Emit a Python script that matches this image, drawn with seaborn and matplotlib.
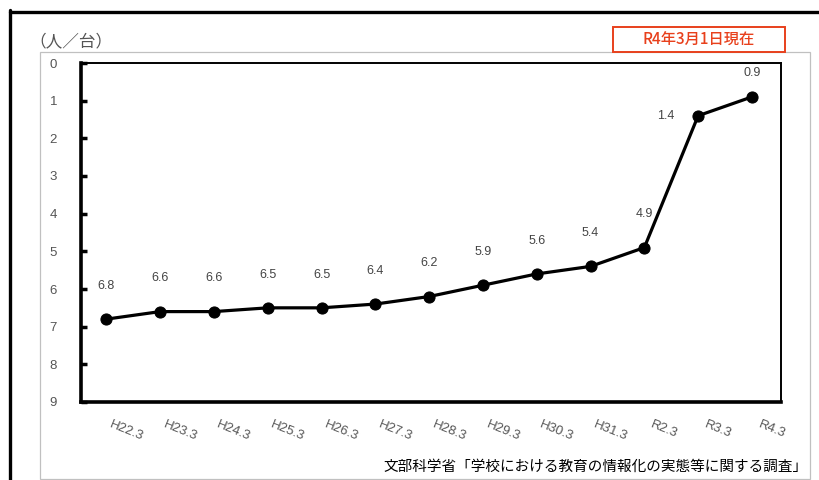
import matplotlib
matplotlib.use("Agg")
import matplotlib.pyplot as plt
import seaborn as sns
import numpy as np
from matplotlib.patches import Rectangle
from matplotlib.lines import Line2D
from matplotlib.transforms import ScaledTranslation

categories = ["H22.3", "H23.3", "H24.3", "H25.3", "H26.3", "H27.3", "H28.3",
              "H29.3", "H30.3", "H31.3", "R2.3", "R3.3", "R4.3"]
values = [6.8, 6.6, 6.6, 6.5, 6.5, 6.4, 6.2, 5.9, 5.6, 5.4, 4.9, 1.4, 0.9]
y_ticks = list(range(0, 10))

sns.set_theme(style="white")
plt.rcParams['font.family'] = ['Liberation Sans', 'Noto Sans CJK JP', 'DejaVu Sans']

fig = plt.figure(figsize=(8.2, 4.8), dpi=100)
W, H = 820, 480

def fx(px):
    return px / W

def fy(py):
    return 1 - py / H

# outer frame lines
fig.add_artist(Line2D([fx(10), fx(820)], [fy(11.5), fy(11.5)], color='black', lw=2.4))
fig.add_artist(Line2D([fx(10.5), fx(10.5)], [fy(10), fy(480)], color='black', lw=2.4))
# gray inner box
fig.add_artist(Rectangle((fx(40), fy(479)), fx(770), (479 - 52) / H, fill=False,
                         edgecolor='#c0c0c0', lw=0.9))

ax = fig.add_axes([fx(81), fy(402), fx(700), (402 - 63) / H])
x = np.arange(len(categories))
sns.lineplot(x=x, y=values, ax=ax, color='black', linewidth=2.3, marker='o',
             markersize=8, markeredgecolor='black')

ax.set_xlim(-0.47, 12.54)
ax.set_ylim(9, 0)
ax.set_yticks(y_ticks)
ax.set_yticklabels([str(v) for v in y_ticks], fontsize=9.5, color='#555555')
ax.set_xticks(x)
ax.set_xticklabels(categories, fontsize=9.5, color='#555555', rotation=-22,
                   ha='center', va='top')
ax.set_xticks(x[:-1] + 0.5, minor=True)
ax.tick_params(axis='x', which='major', length=0, pad=12)
ax.tick_params(axis='x', which='minor', direction='in', length=4, width=2.5, color='black')
ax.tick_params(axis='y', direction='in', length=4, width=2.5, color='black', pad=20, left=True)
for lab in ax.get_yticklabels():
    lab.set_horizontalalignment('center')
for lab in ax.get_xticklabels():
    lab.set_transform(lab.get_transform() + ScaledTranslation(0.2, 0, fig.dpi_scale_trans))

for side in ['left', 'bottom']:
    ax.spines[side].set_linewidth(2.6)
    ax.spines[side].set_color('black')
for side in ['top', 'right']:
    ax.spines[side].set_linewidth(1.4)
    ax.spines[side].set_color('black')
ax.set_xlabel('')
ax.set_ylabel('')

# data labels
for i, v in enumerate(values):
    if categories[i] == "R3.3":
        ax.annotate(f"{v:.1f}", (i, v), xytext=(-23, 0), textcoords='offset points',
                    ha='center', va='center', fontsize=9, color='#444444')
    elif categories[i] == "R4.3":
        ax.annotate(f"{v:.1f}", (i, v), xytext=(0, 17), textcoords='offset points',
                    ha='center', va='center', fontsize=9, color='#444444')
    else:
        ax.annotate(f"{v:.1f}", (i, v), xytext=(0, 24), textcoords='offset points',
                    ha='center', va='center', fontsize=9, color='#444444')

# unit label
fig.text(fx(29), fy(42), "（人／台）", fontsize=12, color='#555555',
         ha='left', va='center', family=['Noto Sans CJK JP', 'DejaVu Sans'])

# red box
fig.add_artist(Rectangle((fx(613), fy(52)), fx(172), 25 / H, facecolor='white',
                         edgecolor='#e8401c', lw=1.4))
fig.text(fx(699), fy(40), "R4年3月1日現在", fontsize=11, color='#e8401c',
         ha='center', va='center', fontweight='medium',
         family=['Noto Sans CJK JP', 'DejaVu Sans'])

# source
fig.text(fx(808), fy(467), "文部科学省「学校における教育の情報化の実態等に関する調査」",
         fontsize=10.5, color='black', ha='right', va='center',
         family=['Noto Sans CJK JP', 'DejaVu Sans'])

fig.savefig("out.png", dpi=100)
